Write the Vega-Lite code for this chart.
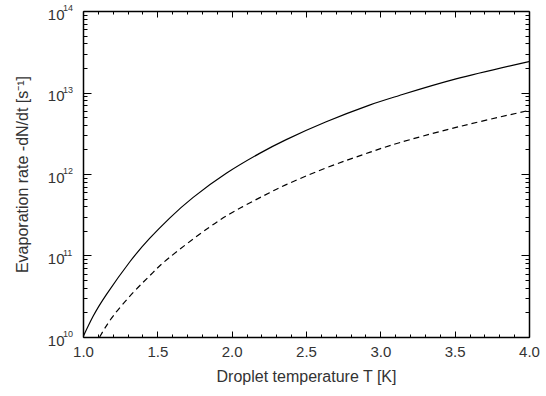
{
  "$schema": "https://vega.github.io/schema/vega-lite/v6.json",
  "width": 446,
  "height": 326,
  "autosize": "none",
  "padding": {"left": 83, "top": 11, "right": 17, "bottom": 59},
  "background": "white",
  "config": {
    "view": {"stroke": null},
    "axis": {
      "domainColor": "black",
      "domainWidth": 1.5,
      "tickColor": "black",
      "tickWidth": 1,
      "labelFont": "Liberation Sans",
      "titleFont": "Liberation Sans",
      "labelColor": "#333333",
      "titleColor": "#333333",
      "labelFontSize": 15,
      "titleFontSize": 16,
      "titleFontWeight": "normal",
      "grid": false,
      "labelOverlap": false,
      "labelFlush": false,
      "labelBound": false
    }
  },
  "layer": [
    {
      "data": {
        "values": [
          {"T": 1.0, "rate": 1.0e10, "series": "solid"},
          {"T": 1.067, "rate": 1.78e10, "series": "solid"},
          {"T": 1.157, "rate": 3.31e10, "series": "solid"},
          {"T": 1.314, "rate": 8.32e10, "series": "solid"},
          {"T": 1.448, "rate": 1.62e11, "series": "solid"},
          {"T": 1.583, "rate": 2.88e11, "series": "solid"},
          {"T": 1.739, "rate": 5.13e11, "series": "solid"},
          {"T": 1.964, "rate": 1.02e12, "series": "solid"},
          {"T": 2.188, "rate": 1.79e12, "series": "solid"},
          {"T": 2.367, "rate": 2.64e12, "series": "solid"},
          {"T": 2.636, "rate": 4.37e12, "series": "solid"},
          {"T": 2.927, "rate": 7.0e12, "series": "solid"},
          {"T": 3.128, "rate": 9.2e12, "series": "solid"},
          {"T": 3.509, "rate": 1.47e13, "series": "solid"},
          {"T": 4.0, "rate": 2.4e13, "series": "solid"}
        ]
      },
      "mark": {"type": "line", "color": "black", "strokeWidth": 1.2, "interpolate": "natural", "clip": true},
      "encoding": {
        "x": {
          "field": "T", "type": "quantitative",
          "scale": {"domain": [1, 4], "nice": false, "zero": false},
          "axis": {
            "orient": "bottom",
            "title": "Droplet temperature T [K]",
            "values": [1.0,1.1,1.2,1.3,1.4,1.5,1.6,1.7,1.8,1.9,2.0,2.1,2.2,2.3,2.4,2.5,2.6,2.7,2.8,2.9,3.0,3.1,3.2,3.3,3.4,3.5,3.6,3.7,3.8,3.9,4.0],
            "tickSize": {"condition": {"test": "abs(datum.value*2 - round(datum.value*2)) < 0.001", "value": -6}, "value": -3},
            "labelExpr": "abs(datum.value*2 - round(datum.value*2)) < 0.001 ? format(datum.value, '.1f') : ''",
            "labelPadding": 13,
            "titlePadding": 6
          }
        },
        "y": {
          "field": "rate", "type": "quantitative",
          "scale": {"type": "log", "domain": [1e10, 1e14], "nice": false},
          "axis": {
            "orient": "left",
            "title": "Evaporation rate -dN/dt [s⁻¹]",
            "values": [1e10,2e10,3e10,4e10,5e10,6e10,7e10,8e10,9e10,1e11,2e11,3e11,4e11,5e11,6e11,7e11,8e11,9e11,1e12,2e12,3e12,4e12,5e12,6e12,7e12,8e12,9e12,1e13,2e13,3e13,4e13,5e13,6e13,7e13,8e13,9e13,1e14],
            "tickSize": {"condition": {"test": "abs(log(datum.value)/LN10 - round(log(datum.value)/LN10)) < 0.001", "value": -8}, "value": -4},
            "labelExpr": "datum.value == 1e10 || datum.value == 1e11 || datum.value == 1e12 || datum.value == 1e13 || datum.value == 1e14 ? '10' : ''",
            "labelBaseline": "middle",
            "labelOffset": 3,
            "labelPadding": 27,
            "titlePadding": 17
          }
        }
      }
    },
    {
      "data": {
        "values": [
          {"T": 1.112, "rate": 1.0e10, "series": "dashed"},
          {"T": 1.2, "rate": 1.78e10, "series": "dashed"},
          {"T": 1.34, "rate": 3.55e10, "series": "dashed"},
          {"T": 1.47, "rate": 6.17e10, "series": "dashed"},
          {"T": 1.583, "rate": 9.5e10, "series": "dashed"},
          {"T": 1.852, "rate": 2.24e11, "series": "dashed"},
          {"T": 2.075, "rate": 3.98e11, "series": "dashed"},
          {"T": 2.255, "rate": 5.9e11, "series": "dashed"},
          {"T": 2.367, "rate": 7.4e11, "series": "dashed"},
          {"T": 2.636, "rate": 1.19e12, "series": "dashed"},
          {"T": 2.927, "rate": 1.84e12, "series": "dashed"},
          {"T": 3.128, "rate": 2.42e12, "series": "dashed"},
          {"T": 3.509, "rate": 3.73e12, "series": "dashed"},
          {"T": 4.0, "rate": 6.03e12, "series": "dashed"}
        ]
      },
      "mark": {"type": "line", "color": "black", "strokeWidth": 1.2, "strokeDash": [6, 4], "interpolate": "natural", "clip": true},
      "encoding": {
        "x": {
          "field": "T", "type": "quantitative",
          "scale": {"domain": [1, 4], "nice": false, "zero": false},
          "axis": {
            "orient": "top",
            "title": null,
            "values": [1.0,1.1,1.2,1.3,1.4,1.5,1.6,1.7,1.8,1.9,2.0,2.1,2.2,2.3,2.4,2.5,2.6,2.7,2.8,2.9,3.0,3.1,3.2,3.3,3.4,3.5,3.6,3.7,3.8,3.9,4.0],
            "tickSize": {"condition": {"test": "abs(datum.value*2 - round(datum.value*2)) < 0.001", "value": -6}, "value": -3},
            "labels": false
          }
        },
        "y": {
          "field": "rate", "type": "quantitative",
          "scale": {"type": "log", "domain": [1e10, 1e14], "nice": false},
          "axis": {
            "orient": "right",
            "title": null,
            "values": [1e10,2e10,3e10,4e10,5e10,6e10,7e10,8e10,9e10,1e11,2e11,3e11,4e11,5e11,6e11,7e11,8e11,9e11,1e12,2e12,3e12,4e12,5e12,6e12,7e12,8e12,9e12,1e13,2e13,3e13,4e13,5e13,6e13,7e13,8e13,9e13,1e14],
            "tickSize": {"condition": {"test": "abs(log(datum.value)/LN10 - round(log(datum.value)/LN10)) < 0.001", "value": -8}, "value": -4},
            "labels": false
          }
        }
      }
    },
    {
      "data": {
        "values": [
          {"rate": 1e10, "exponent": "10"},
          {"rate": 1e11, "exponent": "11"},
          {"rate": 1e12, "exponent": "12"},
          {"rate": 1e13, "exponent": "13"},
          {"rate": 1e14, "exponent": "14"}
        ]
      },
      "mark": {"type": "text", "align": "left", "baseline": "alphabetic", "dx": -20, "dy": 0, "fontSize": 9, "font": "Liberation Sans", "color": "#333333", "clip": false},
      "encoding": {
        "x": {"datum": 1, "type": "quantitative", "axis": null},
        "y": {"field": "rate", "type": "quantitative", "axis": null},
        "text": {"field": "exponent"}
      }
    }
  ],
  "resolve": {"axis": {"x": "independent", "y": "independent"}}
}
